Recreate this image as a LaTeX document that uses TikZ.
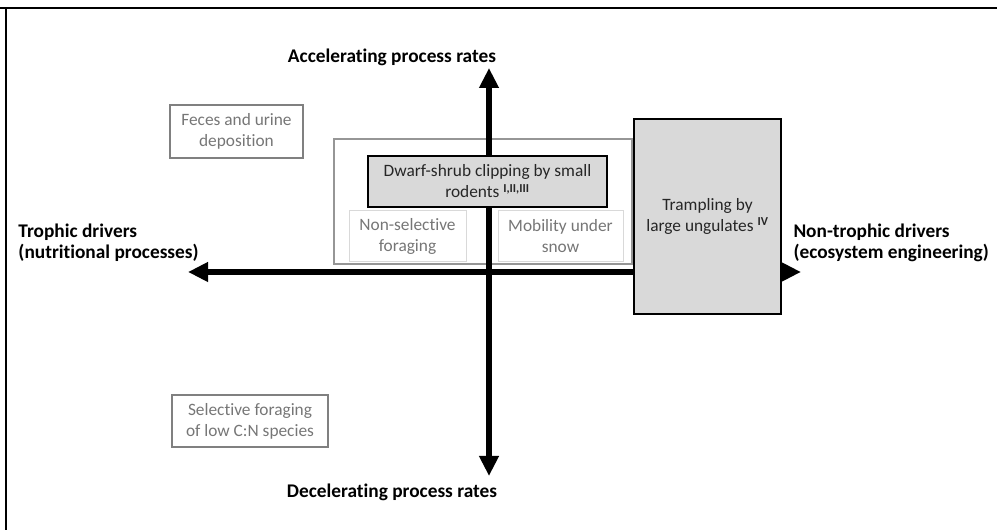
\documentclass[tikz,border=0pt]{standalone}
\usepackage{fontspec}
\setmainfont{Carlito}[Ligatures=NoCommon]
\usetikzlibrary{arrows.meta}
\definecolor{boxgray}{RGB}{217,217,217}
\definecolor{txtgray}{RGB}{118,118,118}
\definecolor{edgegray}{RGB}{128,128,128}
\definecolor{rimgray}{RGB}{150,150,150}
\definecolor{darktxt}{RGB}{38,38,38}
\tikzset{every picture/.style={line width=0.75pt}}

\begin{document}
\begin{tikzpicture}[x=0.75pt,y=0.75pt,yscale=-1,xscale=1,
  txt/.style={font=\fontsize{13}{15.75}\selectfont, align=center, inner sep=0.75pt},
  axislabel/.style={txt, font=\fontsize{14.5}{15.75}\selectfont\bfseries},
  traitbox/.style={txt, draw=edgegray, line width=2pt, text=txtgray},
  subbox/.style={txt, draw=boxgray, fill=white, line width=0.75pt, text=txtgray},
  effectbox/.style={txt, draw=black, line width=1.5pt, fill=boxgray, text=darktxt},
  axis/.style={line width=4.5pt, {Triangle[length=15pt,width=14pt]}-{Triangle[length=15pt,width=14pt]}}]
\useasboundingbox (0,0) rectangle (997,530);

% frame (top and left only)
\draw [line width=1.5pt] (0,8) -- (997,8) ;
\draw [line width=1.5pt] (6,8) -- (6,530) ;

% Shape: outer gray box round the rodent traits
\node [draw=rimgray, line width=2pt, minimum width=223.5pt, minimum height=93.75pt] (rodents) at (483,201.5) {} ;

% Axis end points
\coordinate (up) at (489,68) ;
\coordinate (down) at (489,476) ;
\coordinate (left) at (188,272) ;
\coordinate (right) at (801,272) ;

% Axes
\draw [axis] (down) -- (up) ;
\draw [axis] (left) -- (right) ;

% Trait boxes
\node [traitbox, minimum width=99.75pt, minimum height=39.75pt] (feces) at (236.5,131.5) {Feces and urine\\deposition} ;
\node [traitbox, minimum width=117pt, minimum height=39pt] (selective) at (250,421) {Selective foraging\\of low C:N species} ;
\node [subbox, minimum width=87.75pt, minimum height=38.25pt] (nonsel) at (407.5,236.5) {Non-selective\\foraging} ;
\node [subbox, minimum width=93.75pt, minimum height=38.25pt] (mobility) at (560.5,236.5) {Mobility under\\snow} ;

% Effect boxes
\node [effectbox, minimum width=179.25pt, minimum height=38.25pt] (clipping) at (487.5,181.5) {Dwarf-shrub clipping by small\\rodents \textsuperscript{\bfseries I,II,III}} ;
\node [effectbox, minimum width=110.25pt, minimum height=146.25pt] (trampling) at (707.5,216.5) {Trampling by\\large ungulates \textsuperscript{\bfseries IV}} ;

% Axis labels
\node [axislabel] (accel) at (392,57) {Accelerating process rates} ;
\node [axislabel] (decel) at (392,492) {Decelerating process rates} ;
\node [axislabel, anchor=west, align=left] (trophic) at (17,242.5) {Trophic drivers\\(nutritional processes)} ;
\node [axislabel, anchor=west, align=left] (nontrophic) at (792,242.5) {Non-trophic drivers\\(ecosystem engineering)} ;

\end{tikzpicture}
\end{document}
